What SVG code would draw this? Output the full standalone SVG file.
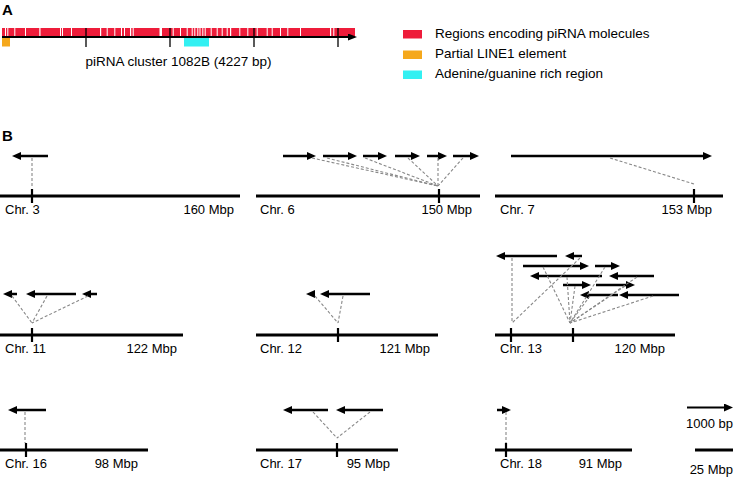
<svg xmlns="http://www.w3.org/2000/svg" width="734" height="478" viewBox="0 0 734 478">
<style>
text{font-family:"Liberation Sans",Arial,Helvetica,sans-serif;font-size:13px;fill:#000}
.hd{font-weight:bold;font-size:15px}
.lg{font-size:13.5px}
.ax{stroke:#000;stroke-width:3;fill:none}
.tk{stroke:#000;stroke-width:2.2;fill:none}
.ar{stroke:#000;stroke-width:2.5;fill:none;marker-end:url(#ah)}
.ds{stroke:#888;stroke-width:1.1;stroke-dasharray:3,2;fill:none}
.gap{fill:#fff}
.end{text-anchor:end}
</style>
<defs>
<marker id="ah" markerUnits="userSpaceOnUse" markerWidth="9" markerHeight="8" viewBox="0 0 9 8" refX="3" refY="4" orient="auto">
<path d="M0,0 L9,4 L0,8 z" fill="#000"/>
</marker>
<marker id="ahs" markerUnits="userSpaceOnUse" markerWidth="9" markerHeight="7" viewBox="0 0 9 7" refX="3" refY="3.5" orient="auto">
<path d="M0,0 L9,3.5 L0,7 z" fill="#000"/>
</marker>
</defs>

<g id="panelA">
<text class="hd" x="2" y="15">A</text>
<rect x="2" y="28" width="353" height="8.5" fill="#EE1C3A"/>
<g class="gap">
<rect x="5" y="28" width="1" height="8.5"/><rect x="7.3" y="28" width="1" height="8.5"/><rect x="14.3" y="28" width="1" height="8.5"/>
<rect x="25" y="28" width="1" height="8.5"/><rect x="39.3" y="28" width="1.2" height="8.5"/><rect x="60" y="28" width="1" height="8.5"/>
<rect x="62" y="28" width="1" height="8.5"/><rect x="71" y="28" width="1" height="8.5"/><rect x="100" y="28" width="1.2" height="8.5"/>
<rect x="106.7" y="28" width="1" height="8.5"/><rect x="114.3" y="28" width="1" height="8.5"/><rect x="121" y="28" width="1" height="8.5"/>
<rect x="124" y="28" width="1" height="8.5"/><rect x="130" y="28" width="1.2" height="8.5"/><rect x="132.7" y="28" width="1" height="8.5"/>
<rect x="159.5" y="28" width="2.5" height="8.5"/><rect x="172.7" y="28" width="1" height="8.5"/><rect x="180" y="28" width="1" height="8.5"/>
<rect x="186.7" y="28" width="1" height="8.5"/><rect x="191.7" y="28" width="1" height="8.5"/><rect x="194.3" y="28" width="1" height="8.5"/>
<rect x="197.3" y="28" width="1" height="8.5"/><rect x="199.5" y="28" width="1" height="8.5"/><rect x="202.3" y="28" width="1" height="8.5"/>
<rect x="204.7" y="28" width="1" height="8.5"/><rect x="210.7" y="28" width="1" height="8.5"/><rect x="216.7" y="28" width="1" height="8.5"/>
<rect x="221.7" y="28" width="1" height="8.5"/><rect x="226.7" y="28" width="1" height="8.5"/><rect x="230" y="28" width="1.2" height="8.5"/>
<rect x="239.3" y="28" width="1" height="8.5"/><rect x="247.3" y="28" width="1" height="8.5"/><rect x="256.7" y="28" width="1" height="8.5"/>
<rect x="266.7" y="28" width="1" height="8.5"/><rect x="271.7" y="28" width="1" height="8.5"/><rect x="280" y="28" width="1" height="8.5"/>
<rect x="287.3" y="28" width="1" height="8.5"/><rect x="300" y="28" width="1" height="8.5"/><rect x="330" y="28" width="1.2" height="8.5"/>
<rect x="333.3" y="28" width="1" height="8.5"/>
</g>
<rect x="2" y="38" width="8" height="8.5" fill="#F5A81C"/>
<rect x="184" y="38" width="25" height="8.5" fill="#33F0F2"/>
<line x1="2" y1="37" x2="351" y2="37" stroke="#000" stroke-width="2" marker-end="url(#ahs)"/>
<g class="tk" style="stroke-width:1.3">
<line x1="86" y1="28" x2="86" y2="47"/><line x1="170" y1="28" x2="170" y2="47"/><line x1="254" y1="28" x2="254" y2="47"/><line x1="338" y1="28" x2="338" y2="47"/>
</g>
<text class="lg" x="178.5" y="66" text-anchor="middle">piRNA cluster 1082B (4227 bp)</text>
</g>

<g id="legend">
<rect x="403" y="30" width="19" height="8.5" fill="#EE1C3A"/>
<text class="lg" x="435" y="37.5">Regions encoding piRNA molecules</text>
<rect x="403" y="50.5" width="19" height="8.5" fill="#F5A81C"/>
<text class="lg" x="435" y="57.5">Partial LINE1 element</text>
<rect x="403" y="70.5" width="19" height="8.5" fill="#33F0F2"/>
<text class="lg" x="435" y="77.5">Adenine/guanine rich region</text>
</g>

<text class="hd" x="2" y="141">B</text>

<g id="chr3">
<line class="ax" x1="0" y1="196" x2="240" y2="196"/>
<line class="tk" x1="32" y1="189" x2="32" y2="203"/>
<text x="5" y="214">Chr. 3</text><text class="end" x="234" y="214">160 Mbp</text>
<line class="ar" x1="48" y1="156" x2="18" y2="156"/>
</g>
<g id="chr6">
<line class="ax" x1="256" y1="196" x2="480" y2="196"/>
<line class="tk" x1="439" y1="189" x2="439" y2="203"/>
<text x="260" y="214">Chr. 6</text><text class="end" x="472" y="214">150 Mbp</text>
<line class="ar" x1="283" y1="156" x2="310" y2="156"/>
<line class="ar" x1="323" y1="156" x2="351" y2="156"/>
<line class="ar" x1="363" y1="156" x2="381" y2="156"/>
<line class="ar" x1="395" y1="156" x2="414" y2="156"/>
<line class="ar" x1="427" y1="156" x2="441" y2="156"/>
<line class="ar" x1="453" y1="156" x2="473" y2="156"/>
</g>
<g id="chr7">
<line class="ax" x1="495" y1="196" x2="723" y2="196"/>
<line class="tk" x1="694" y1="189" x2="694" y2="203"/>
<text x="500" y="214">Chr. 7</text><text class="end" x="712" y="214">153 Mbp</text>
<line class="ar" x1="511" y1="156" x2="706" y2="156"/>
</g>

<g id="chr11">
<line class="ax" x1="0" y1="335" x2="183" y2="335"/>
<line class="tk" x1="32" y1="328" x2="32" y2="342"/>
<text x="5" y="353">Chr. 11</text><text class="end" x="177" y="353">122 Mbp</text>
<line class="ar" x1="17" y1="294" x2="9" y2="294"/>
<line class="ar" x1="76" y1="294" x2="32" y2="294"/>
<line class="ar" x1="97" y1="294" x2="88" y2="294"/>
</g>
<g id="chr12">
<line class="ax" x1="256" y1="335" x2="438" y2="335"/>
<line class="tk" x1="338" y1="328" x2="338" y2="342"/>
<text x="260" y="353">Chr. 12</text><text class="end" x="430" y="353">121 Mbp</text>
<line class="ar" x1="314" y1="294" x2="312" y2="294" style="stroke-width:1"/>
<line class="ar" x1="370" y1="294" x2="326" y2="294"/>
</g>
<g id="chr13">
<line class="ax" x1="495" y1="335" x2="675" y2="335"/>
<line class="tk" x1="511" y1="328" x2="511" y2="342"/>
<line class="tk" x1="573" y1="328" x2="573" y2="342"/>
<text x="500" y="353">Chr. 13</text><text class="end" x="665" y="353">120 Mbp</text>
<line class="ar" x1="557" y1="256" x2="502" y2="256"/>
<line class="ar" x1="582" y1="256" x2="571" y2="256"/>
<line class="ar" x1="523" y1="266" x2="583" y2="266"/>
<line class="ar" x1="595" y1="266" x2="614" y2="266"/>
<line class="ar" x1="602" y1="276" x2="536" y2="276"/>
<line class="ar" x1="654" y1="276" x2="615" y2="276"/>
<line class="ar" x1="563" y1="285" x2="585" y2="285"/>
<line class="ar" x1="596" y1="285" x2="629" y2="285"/>
<line class="ar" x1="618" y1="295" x2="586" y2="295"/>
<line class="ar" x1="679" y1="295" x2="625" y2="295"/>
</g>

<g id="chr16">
<line class="ax" x1="0" y1="450" x2="148" y2="450"/>
<line class="tk" x1="26" y1="443" x2="26" y2="457"/>
<text x="5" y="468">Chr. 16</text><text class="end" x="138" y="468">98 Mbp</text>
<line class="ar" x1="46" y1="410" x2="14" y2="410"/>
</g>
<g id="chr17">
<line class="ax" x1="256" y1="450" x2="398" y2="450"/>
<line class="tk" x1="337" y1="443" x2="337" y2="457"/>
<text x="260" y="468">Chr. 17</text><text class="end" x="390" y="468">95 Mbp</text>
<line class="ar" x1="328" y1="410" x2="289" y2="410"/>
<line class="ar" x1="383" y1="410" x2="342" y2="410"/>
</g>
<g id="chr18">
<line class="ax" x1="495" y1="450" x2="632" y2="450"/>
<line class="tk" x1="506" y1="443" x2="506" y2="457"/>
<text x="500" y="468">Chr. 18</text><text class="end" x="622" y="468">91 Mbp</text>
<line class="ar" x1="497" y1="410" x2="505" y2="410"/>
</g>

<g id="scale">
<line class="ar" x1="687" y1="407.5" x2="727" y2="407.5" style="stroke-width:2"/>
<text class="end" x="733" y="428">1000 bp</text>
<line x1="695" y1="450" x2="733" y2="450" stroke="#000" stroke-width="3"/>
<text class="end" x="733" y="474">25 Mbp</text>
</g>

<g id="connectors">
<line class="ds" x1="32" y1="158" x2="32" y2="188"/>
<line class="ds" x1="312" y1="158" x2="438" y2="186"/>
<line class="ds" x1="327" y1="158" x2="438" y2="186"/>
<line class="ds" x1="365" y1="158" x2="438" y2="186"/>
<line class="ds" x1="408" y1="158" x2="438" y2="186"/>
<line class="ds" x1="438" y1="158" x2="438" y2="186"/>
<line class="ds" x1="463" y1="158" x2="438" y2="186"/>
<line class="ds" x1="610" y1="158" x2="694" y2="184"/>
<line class="ds" x1="12" y1="296" x2="32" y2="323"/>
<line class="ds" x1="47" y1="296" x2="32" y2="323"/>
<line class="ds" x1="88" y1="296" x2="32" y2="323"/>
<line class="ds" x1="315" y1="296" x2="338" y2="323"/>
<line class="ds" x1="343" y1="296" x2="338" y2="323"/>
<line class="ds" x1="512" y1="258" x2="512" y2="323"/>
<line class="ds" x1="580" y1="258" x2="512" y2="323"/>
<line class="ds" x1="543" y1="267" x2="570" y2="323"/>
<line class="ds" x1="605" y1="267" x2="570" y2="323"/>
<line class="ds" x1="567" y1="277" x2="570" y2="323"/>
<line class="ds" x1="637" y1="277" x2="570" y2="323"/>
<line class="ds" x1="575" y1="286" x2="570" y2="323"/>
<line class="ds" x1="625" y1="286" x2="570" y2="323"/>
<line class="ds" x1="590" y1="296" x2="570" y2="323"/>
<line class="ds" x1="653" y1="296" x2="570" y2="323"/>
<line class="ds" x1="25" y1="412" x2="25" y2="443"/>
<line class="ds" x1="313" y1="412" x2="337" y2="438"/>
<line class="ds" x1="370" y1="412" x2="337" y2="438"/>
<line class="ds" x1="506" y1="412" x2="506" y2="443"/>
</g>
</svg>
